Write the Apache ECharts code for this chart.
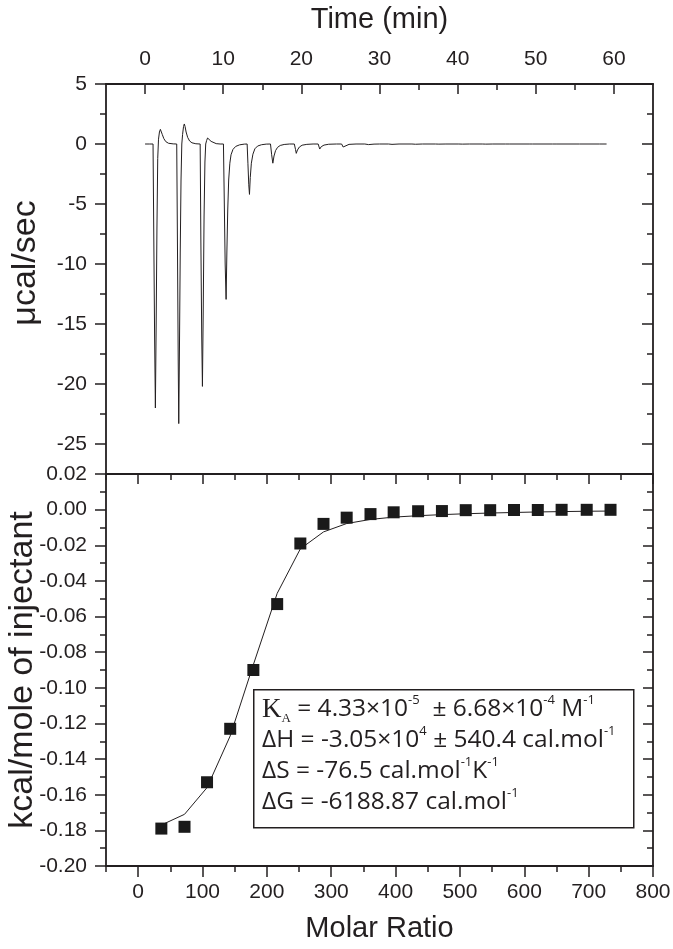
<!DOCTYPE html>
<html>
<head>
<meta charset="utf-8">
<script src="https://cdn.jsdelivr.net/npm/echarts@6.0.0/dist/echarts.min.js"></script>
<style>
  html, body { margin: 0; padding: 0; background: #fff; }
  #chart { width: 673px; height: 949px; }
</style>
</head>
<body>
<div id="chart"></div>
<script>
// raw thermogram: [time (min), µcal/sec]
const thermogram = [
  [0, 0], [0.6, 0], [1.02, 0], [1.12, -8], [1.22, -16], [1.32, -22.0], [1.42, -15], [1.52, -7], [1.62, -1.2],
  [1.72, 0.4], [1.84, 1.0], [1.96, 1.22], [2.06, 1.1], [2.2, 0.8], [2.4, 0.45], [2.65, 0.2], [3.0, 0.06], [3.6, 0.01],
  [4.05, 0], [4.15, -9], [4.24, -18], [4.31, -23.3], [4.40, -17], [4.50, -9], [4.60, -3], [4.70, 0], [4.80, 0.8],
  [4.92, 1.45], [5.02, 1.67], [5.12, 1.45], [5.25, 1.0], [5.45, 0.55], [5.7, 0.25], [6.0, 0.1], [6.5, 0.02],
  [7.05, 0], [7.14, -8], [7.25, -16], [7.34, -20.2], [7.44, -14], [7.55, -6], [7.66, -1.5], [7.76, 0], [7.88, 0.3],
  [8.0, 0.5], [8.1, 0.56], [8.25, 0.42], [8.45, 0.22], [8.7, 0.1], [9.1, 0.03], [9.6, 0],
  [10.03, 0], [10.12, -4], [10.25, -10], [10.37, -12.95], [10.47, -9], [10.58, -5.5], [10.7, -3], [10.85, -1.6],
  [11.0, -0.9], [11.25, -0.45], [11.6, -0.2], [12.1, -0.07], [12.7, -0.01],
  [13.06, 0], [13.16, -1.6], [13.27, -3.4], [13.36, -4.2], [13.46, -2.8], [13.6, -1.6], [13.8, -0.85], [14.05, -0.4],
  [14.4, -0.17], [14.9, -0.06], [15.5, -0.01],
  [16.05, 0], [16.2, -0.9], [16.35, -1.6], [16.5, -1.0], [16.7, -0.55], [16.95, -0.28], [17.3, -0.12], [17.8, -0.04], [18.5, 0],
  [19.1, 0], [19.25, -0.45], [19.35, -0.78], [19.5, -0.5], [19.75, -0.25], [20.1, -0.1], [20.7, -0.03], [21.5, 0],
  [22.15, 0], [22.35, -0.42], [22.55, -0.22], [22.9, -0.09], [23.5, -0.02], [24.5, 0],
  [25.15, 0], [25.35, -0.25], [25.6, -0.1], [26.1, -0.03], [27.0, 0],
  [28.12, 0], [28.3, -0.15], [28.6, -0.05], [29.3, -0.01], [30.0, 0],
  [31.15, 0], [31.3, -0.1], [31.6, -0.03], [32.5, 0],
  [34.15, 0], [34.3, -0.07], [34.6, -0.02], [35.5, 0],
  [37.15, 0], [37.3, -0.06], [37.6, -0.01], [38.5, 0],
  [40.15, 0], [40.3, -0.05], [40.6, -0.01], [41.5, 0],
  [43.15, 0], [43.3, -0.05], [43.6, -0.01], [44.5, 0],
  [46.15, 0], [46.3, -0.04], [46.6, 0], [49.15, 0], [49.3, -0.04], [49.6, 0],
  [52.15, 0], [52.3, -0.04], [52.6, 0], [55.15, 0], [55.3, -0.04], [55.6, 0],
  [58.15, 0], [58.3, -0.04], [58.6, 0], [59.06, 0]
];

// integrated heats
const molarRatio = [36, 72, 107, 143, 179, 216, 252, 288, 324, 361, 397, 435, 472, 509, 547, 584, 621, 658, 697, 734];
const heat = [-0.179, -0.178, -0.153, -0.123, -0.090, -0.053, -0.019, -0.008, -0.0045, -0.0025,
  -0.0015, -0.0009, -0.0008, -0.0003, -0.0003, -0.0002, -0.0002, -0.0001, -0.0001, -0.0001];
const heatFit = [-0.177, -0.171, -0.156, -0.127, -0.087, -0.047, -0.022, -0.0125, -0.0078, -0.0055,
  -0.0042, -0.0034, -0.0028, -0.0023, -0.0019, -0.0016, -0.0013, -0.0011, -0.0009, -0.0008];

// tick values
const timeTicks = [0, 10, 20, 30, 40, 50, 60];
const timeMinor = [5, 15, 25, 35, 45, 55];
const powerTicks = [5, 0, -5, -10, -15, -20, -25];
const powerMinor = [2.5, -2.5, -7.5, -12.5, -17.5, -22.5];
const ratioTicks = [0, 100, 200, 300, 400, 500, 600, 700, 800];
const ratioMinor = [-50, 50, 150, 250, 350, 450, 550, 650, 750];
const heatTicks = [0.02, 0, -0.02, -0.04, -0.06, -0.08, -0.10, -0.12, -0.14, -0.16, -0.18, -0.20];
const heatMinor = [0.01, -0.01, -0.03, -0.05, -0.07, -0.09, -0.11, -0.13, -0.15, -0.17, -0.19];

const INK = '#231f20';
const FONT = 'Liberation Sans';

const chart = echarts.init(document.getElementById('chart'));

function makeAxis(o) {
  return {
    type: 'value',
    gridIndex: o.grid,
    position: o.position,
    min: o.min,
    max: o.max,
    name: o.name || '',
    nameLocation: 'middle',
    nameGap: o.nameGap || 0,
    nameMoveOverlap: false,
    nameTextStyle: { color: INK, fontSize: o.nameSize || 24, fontFamily: FONT, padding: o.namePad || 0 },
    splitLine: { show: false },
    axisLine: { show: !!o.line, onZero: false, lineStyle: { color: INK, width: 1.8 } },
    axisTick: {
      show: true,
      inside: !!o.inside,
      length: o.len,
      customValues: o.ticks,
      lineStyle: { color: INK, width: 1.5 }
    },
    axisLabel: o.labels ? {
      show: true,
      customValues: o.ticks,
      margin: o.margin,
      color: INK,
      fontSize: o.fontSize,
      fontFamily: FONT,
      formatter: o.fmt || (v => String(v))
    } : { show: false }
  };
}

const option = {
  animation: false,
  backgroundColor: '#fff',
  grid: [
    { left: 106, top: 84, width: 547, height: 390, outerBoundsMode: 'none' },
    { left: 106, top: 474, width: 547, height: 392, outerBoundsMode: 'none' }
  ],
  xAxis: [
    makeAxis({ grid: 0, position: 'top', min: -5, max: 65, line: true, inside: true, len: 10, ticks: timeTicks,
      labels: true, margin: 14, fontSize: 21, name: 'Time (min)', nameGap: 50, nameSize: 29 }),
    makeAxis({ grid: 0, position: 'top', min: -5, max: 65, inside: true, len: 6, ticks: timeMinor }),
    makeAxis({ grid: 1, position: 'bottom', min: -50, max: 800, line: true, len: 11, ticks: ratioTicks,
      labels: true, margin: 16, fontSize: 21, name: 'Molar Ratio', nameGap: 48, nameSize: 29 }),
    makeAxis({ grid: 1, position: 'bottom', min: -50, max: 800, len: 6, ticks: ratioMinor }),
    makeAxis({ grid: 1, position: 'top', min: -50, max: 800, line: true, inside: true, len: 10, ticks: ratioTicks }),
    makeAxis({ grid: 1, position: 'top', min: -50, max: 800, inside: true, len: 6, ticks: ratioMinor })
  ],
  yAxis: [
    makeAxis({ grid: 0, position: 'left', min: -27.5, max: 5, line: true, len: 11, ticks: powerTicks,
      labels: true, margin: 19, fontSize: 21, name: 'μcal/sec', nameGap: 63, nameSize: 34,
      namePad: [0, 0, 0, 32] }),
    makeAxis({ grid: 0, position: 'left', min: -27.5, max: 5, len: 6, ticks: powerMinor }),
    makeAxis({ grid: 0, position: 'right', min: -27.5, max: 5, line: true, inside: true, len: 11, ticks: powerTicks }),
    makeAxis({ grid: 0, position: 'right', min: -27.5, max: 5, inside: true, len: 6, ticks: powerMinor }),
    makeAxis({ grid: 1, position: 'left', min: -0.2, max: 0.02, line: true, len: 11, ticks: heatTicks,
      labels: true, margin: 19, fontSize: 21, fmt: v => v.toFixed(2),
      name: 'kcal/mole of injectant', nameGap: 66, nameSize: 34 }),
    makeAxis({ grid: 1, position: 'left', min: -0.2, max: 0.02, len: 6, ticks: heatMinor }),
    makeAxis({ grid: 1, position: 'right', min: -0.2, max: 0.02, line: true, inside: true, len: 10, ticks: heatTicks }),
    makeAxis({ grid: 1, position: 'right', min: -0.2, max: 0.02, inside: true, len: 6, ticks: heatMinor })
  ],
  series: [
    {
      type: 'line',
      xAxisIndex: 0,
      yAxisIndex: 0,
      data: thermogram,
      showSymbol: false,
      lineStyle: { color: INK, width: 1 },
      silent: true
    },
    {
      type: 'line',
      xAxisIndex: 2,
      yAxisIndex: 4,
      data: molarRatio.map((x, i) => [x, heatFit[i]]),
      showSymbol: false,
      lineStyle: { color: INK, width: 1 },
      z: 2
    },
    {
      type: 'scatter',
      xAxisIndex: 2,
      yAxisIndex: 4,
      data: molarRatio.map((x, i) => [x, heat[i]]),
      symbol: 'rect',
      symbolSize: 12,
      itemStyle: { color: '#1a1a1a', opacity: 1 },
      z: 3
    }
  ],
  graphic: [
    {
      type: 'rect',
      left: 253,
      top: 689,
      shape: { width: 380, height: 138 },
      style: { fill: '#fff', stroke: INK, lineWidth: 1.5 },
      z: 10
    },
    {
      type: 'text',
      left: 262,
      top: 694,
      z: 11,
      style: {
        text: [
          '{k|K}{ks|A}{t| = 4.33×10}{s|-5}{t|  ± 6.68×10}{s|-4}{t| M}{s|-1}',
          '{t|ΔH = -3.05×10}{s|4}{t| ± 540.4 cal.mol}{s|-1}',
          '{t|ΔS = -76.5 cal.mol}{s|-1}{t|K}{s|-1}',
          '{t|ΔG = -6188.87 cal.mol}{s|-1}'
        ].join('\n'),
        rich: {
          t: { fontSize: 24.5, fontFamily: 'Open Sans', fill: INK, lineHeight: 31 },
          k: { fontSize: 27, fontFamily: 'Liberation Serif', fill: INK, lineHeight: 31 },
          ks: { fontSize: 13, fontFamily: 'Liberation Serif', fill: INK, lineHeight: 8, verticalAlign: 'bottom' },
          s: { fontSize: 13, fontFamily: 'Open Sans', fill: INK, lineHeight: 20, verticalAlign: 'top' }
        }
      }
    }
  ]
};

chart.setOption(option);
</script>
</body>
</html>
